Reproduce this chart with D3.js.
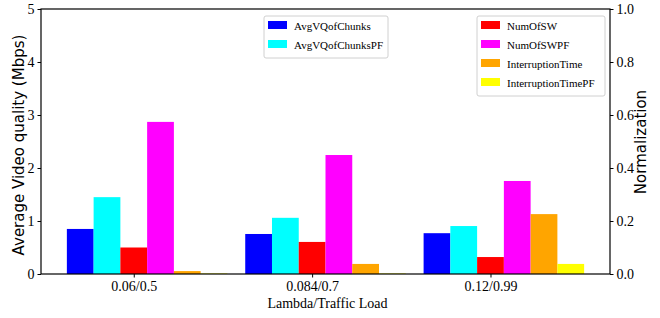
<!DOCTYPE html>
<html lang="en">
<head>
<meta charset="utf-8">
<title>Video quality vs traffic load</title>
<script src="https://cdn.jsdelivr.net/npm/d3@7"></script>
<style>
  body { margin: 0; background: #fff; }
  svg text { font-family: "Liberation Serif", serif; }
</style>
</head>
<body>
<svg id="chart" width="660" height="318"></svg>
<script>
// categories on the x axis
var categories = ["0.06/0.5", "0.084/0.7", "0.12/0.99"];

// left axis series (Mbps)
var avgVQofChunks   = [0.85, 0.755, 0.77];
var avgVQofChunksPF = [1.45, 1.06, 0.905];

// right axis series (normalized)
var numOfSW             = [0.10, 0.121, 0.064];
var numOfSWPF           = [0.574, 0.449, 0.351];
var interruptionTime    = [0.011, 0.038, 0.226];
var interruptionTimePF  = [0.002, 0.002, 0.038];

var leftTicks  = [0, 1, 2, 3, 4, 5];
var rightTicks = [0, 0.2, 0.4, 0.6, 0.8, 1.0];

// series in drawing order, slot = position relative to the category tick
var series = [
  { name: "AvgVQofChunks",      values: avgVQofChunks,      color: "#0000ff", axis: "left",  slot: -2 },
  { name: "AvgVQofChunksPF",    values: avgVQofChunksPF,    color: "#00ffff", axis: "left",  slot: -1 },
  { name: "NumOfSW",            values: numOfSW,            color: "#ff0000", axis: "right", slot: 0 },
  { name: "NumOfSWPF",          values: numOfSWPF,          color: "#ff00ff", axis: "right", slot: 1 },
  { name: "InterruptionTime",   values: interruptionTime,   color: "#ffa500", axis: "right", slot: 2 },
  { name: "InterruptionTimePF", values: interruptionTimePF, color: "#ffff00", axis: "right", slot: 3 }
];

var BAR_W = 0.15;
var L = 41, R = 610, T = 9, B = 274;

var svg = d3.select("#chart");

var x = d3.scaleLinear().domain([-0.52, 2.67]).range([L, R]);
var yL = d3.scaleLinear().domain([0, 5]).range([B, T]);
var yR = d3.scaleLinear().domain([0, 1]).range([B, T]);

// bars
series.forEach(function (s) {
  var y = s.axis === "left" ? yL : yR;
  svg.append("g").selectAll("rect")
    .data(s.values)
    .enter().append("rect")
    .attr("x", function (d, i) { return x(i + (s.slot - 0.5) * BAR_W); })
    .attr("width", function (d, i) { return x(i + (s.slot + 0.5) * BAR_W) - x(i + (s.slot - 0.5) * BAR_W); })
    .attr("y", function (d) { return y(d); })
    .attr("height", function (d) { return B - y(d); })
    .attr("fill", s.color);
});

// frame
svg.append("rect")
  .attr("x", L).attr("y", T)
  .attr("width", R - L).attr("height", B - T)
  .attr("fill", "none").attr("stroke", "#000").attr("stroke-width", 1.2);

// axes
var xAxis = d3.axisBottom(x)
  .tickValues(d3.range(categories.length))
  .tickFormat(function (d) { return categories[d]; })
  .tickSize(3.5).tickPadding(4);

var leftAxis = d3.axisLeft(yL).tickValues(leftTicks).tickFormat(d3.format("d")).tickSize(3.5).tickPadding(3);
var rightAxis = d3.axisRight(yR).tickValues(rightTicks).tickFormat(d3.format(".1f")).tickSize(3.5).tickPadding(3);

function styleAxis(g) {
  g.select(".domain").remove();
  g.selectAll("text").attr("font-family", "Liberation Serif, serif").attr("font-size", 14).attr("fill", "#000");
  g.selectAll("line").attr("stroke", "#000");
}

svg.append("g").attr("transform", "translate(0," + B + ")").call(xAxis).call(styleAxis);
svg.append("g").attr("transform", "translate(" + L + ",0)").call(leftAxis).call(styleAxis);
svg.append("g").attr("transform", "translate(" + R + ",0)").call(rightAxis).call(styleAxis);

// axis titles
svg.append("text")
  .attr("transform", "translate(24,145) rotate(-90)")
  .attr("text-anchor", "middle")
  .style("font-family", "DejaVu Sans, sans-serif")
  .attr("font-size", 15)
  .text("Average Video quality (Mbps)");

svg.append("text")
  .attr("transform", "translate(646,142) rotate(-90)")
  .attr("text-anchor", "middle")
  .style("font-family", "DejaVu Sans, sans-serif")
  .attr("font-size", 15)
  .text("Normalization");

svg.append("text")
  .attr("x", 327.5).attr("y", 308)
  .attr("text-anchor", "middle")
  .attr("font-size", 14)
  .text("Lambda/Traffic Load");

// legends
function legend(items, x0, y0, w) {
  var g = svg.append("g").attr("transform", "translate(" + x0 + "," + y0 + ")");
  g.append("rect")
    .attr("width", w).attr("height", items.length * 19 + 4)
    .attr("rx", 2).attr("fill", "#fff").attr("fill-opacity", 0.8)
    .attr("stroke", "#d0d0d0");
  items.forEach(function (s, i) {
    g.append("rect")
      .attr("x", 4).attr("y", 5 + i * 19)
      .attr("width", 19).attr("height", 8)
      .attr("fill", s.color);
    g.append("text")
      .attr("x", 30).attr("y", 14 + i * 19)
      .attr("font-size", 11)
      .text(s.name);
  });
}

legend(series.filter(function (s) { return s.axis === "left"; }), 264, 16, 124);
legend(series.filter(function (s) { return s.axis === "right"; }), 477, 16, 128);
</script>
</body>
</html>
